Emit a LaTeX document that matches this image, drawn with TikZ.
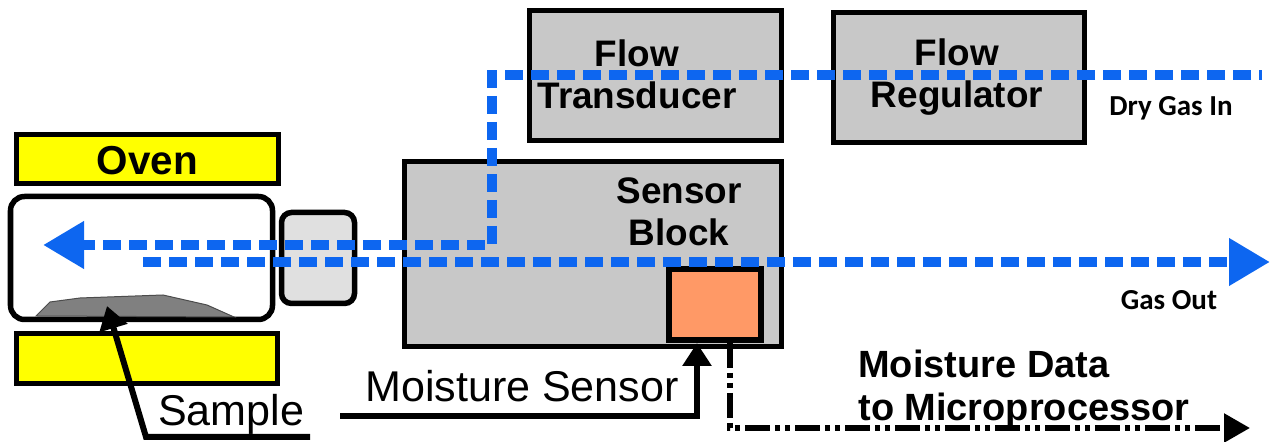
\documentclass[tikz,border=0pt]{standalone}
\usepackage{fontspec}
\setmainfont{Liberation Sans}
\newfontfamily\calibrifont{Carlito}
\usepackage{xcolor}
\usetikzlibrary{arrows.meta,positioning}
\definecolor{gasblue}{RGB}{13,102,240}
\definecolor{ovenyellow}{RGB}{255,255,0}
\definecolor{blockgray}{RGB}{200,200,200}
\definecolor{couplergray}{RGB}{224,224,224}
\definecolor{samplegray}{RGB}{128,128,128}
\definecolor{sensororange}{RGB}{255,153,102}
\tikzstyle{blockbox} = [rectangle, draw=black, line width=0.11cm, fill=blockgray]
\tikzstyle{ovenbox} = [blockbox, fill=ovenyellow]
\tikzstyle{roundbox} = [blockbox, rounded corners=0.28cm]
\tikzstyle{gasline} = [line width=0.21cm, color=gasblue, dash pattern=on 0.36cm off 0.16cm, -{Triangle[length=0.82cm,width=0.9cm]}]
\tikzstyle{callout} = [line width=0.12cm, -{Triangle[length=0.46cm,width=0.56cm]}]
\tikzstyle{dataline} = [line width=0.11cm, dash pattern=on 0.5cm off 0.1cm on 0.1cm off 0.1cm on 0.1cm off 0.1cm, -{Triangle[length=0.52cm,width=0.56cm]}]
\tikzstyle{bigbold} = [font=\fontsize{21}{23.8}\selectfont\bfseries, align=center, inner sep=0pt]
\tikzstyle{plain} = [font=\fontsize{24.5}{28}\selectfont, inner sep=0pt]
\tikzstyle{small} = [font=\fontsize{16.5}{20}\selectfont\calibrifont\bfseries, inner sep=0pt]

\begin{document}
\begin{tikzpicture}
\useasboundingbox (0,0) rectangle (25.48,8.84);
% Oven and chamber
\node[ovenbox, minimum width=5.24cm, minimum height=0.98cm] at (2.95,5.66) (oventop) {};
\node[ovenbox, minimum width=5.22cm, minimum height=1cm] at (2.94,1.67) (ovenbottom) {};
\node[font=\fontsize{23}{26}\selectfont\bfseries, inner sep=0pt] at (2.95,5.62) (oventext) {Oven};
\node[roundbox, fill=white, minimum width=5.24cm, minimum height=2.46cm] at (2.83,3.68) (chamber) {};
\node[roundbox, fill=couplergray, minimum width=1.46cm, minimum height=1.82cm, rounded corners=0.2cm] at (6.36,3.68) (coupler) {};
\draw[draw=black!70, fill=samplegray, line width=0.02cm] (0.72,2.52) -- (1,2.8) -- (1.6,2.88) -- (3.26,2.94) -- (4.14,2.74) -- (4.68,2.5) -- cycle;

% Blocks
\node[blockbox, minimum width=7.54cm, minimum height=3.7cm] at (11.86,3.76) (sensorblock) {};
\node[blockbox, minimum width=5.04cm, minimum height=2.6cm] at (13.11,7.33) (transducer) {};
\node[blockbox, minimum width=5.02cm, minimum height=2.6cm] at (19.18,7.29) (regulator) {};
\node[blockbox, fill=sensororange, line width=0.12cm, minimum width=1.84cm, minimum height=1.42cm] at (14.3,2.75) (sensor) {};

% Labels
\node[bigbold] at (12.74,7.35) (transducertext) {Flow\\Transducer};
\node[bigbold] at (19.14,7.3) (regulatortext) {Flow\\Regulator};
\node[bigbold] at (13.58,4.6) (sensortext) {Sensor\\Block};
\node[bigbold, align=left, anchor=west, font=\fontsize{21.6}{24.4}\selectfont\bfseries] at (17.16,1.05) (datatext) {Moisture Data\\to Microprocessor};
\node[plain] at (4.62,0.56) (sampletext) {Sample};
\node[plain] at (10.44,1.12) (moisturetext) {Moisture Sensor};
\node[small] at (23.42,6.68) (dryin) {Dry Gas In};
\node[small] at (23.38,2.84) (gasout) {Gas Out};

% Gas paths
\coordinate (gasinstart) at (25.24,7.34);
\coordinate (gasinend) at (0.86,3.94);
\coordinate (gasoutstart) at (2.86,3.6);
\coordinate (gasoutend) at (25.4,3.6);
\draw[gasline, dash phase=0.3cm] (gasinstart) -- (9.84,7.34) -- (9.84,3.94) -- (gasinend);
\draw[gasline] (gasoutstart) -- (gasoutend);

% Callouts
\coordinate (sampletail) at (6.2,0.1);
\coordinate (samplebend) at (2.92,0.1);
\coordinate (sampletip) at (2.14,2.72);
\coordinate (moisturetail) at (6.8,0.52);
\coordinate (dataend) at (25,0.28);
\draw[callout] (sampletail) -- (samplebend) -- (sampletip);
\draw[callout] (moisturetail) -| ([xshift=-0.36cm]sensor.south);
\draw[dataline] ([xshift=0.3cm]sensor.south) |- (dataend);
\end{tikzpicture}
\end{document}
